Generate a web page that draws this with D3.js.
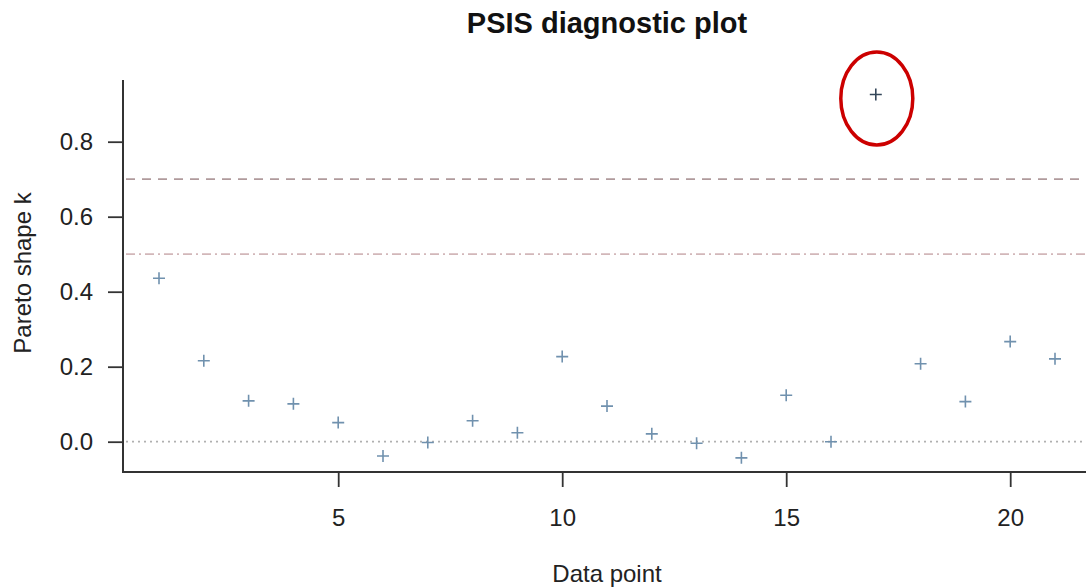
<!DOCTYPE html>
<html lang="en">
<head>
  <meta charset="UTF-8" />
  <title>PSIS diagnostic plot</title>
  <style>
    html, body { margin: 0; padding: 0; background: #fff; }
    svg { display: block; font-family: "Liberation Sans", Arial, sans-serif; }
  </style>
</head>
<body>
<svg id="chart" width="1086" height="588"></svg>
<script src="https://d3js.org/d3.v7.min.js"></script>
<script>
  // data
  const dataPoints = [1, 2, 3, 4, 5, 6, 7, 8, 9, 10, 11, 12, 13, 14, 15, 16, 17, 18, 19, 20, 21];
  const paretoK = [0.436, 0.216, 0.109, 0.101, 0.051, -0.038, -0.002, 0.056, 0.024, 0.227,
                   0.095, 0.021, -0.004, -0.043, 0.124, 0.000, 0.926, 0.208, 0.107, 0.267, 0.221];
  const xTicks = [5, 10, 15, 20];
  const yTicks = [0.0, 0.2, 0.4, 0.6, 0.8];
  const thresholds = [
    { k: 0.7, dash: "9,7", color: "#b09a9c" },
    { k: 0.5, dash: "9,4,2,4", color: "#d2b7b9" },
    { k: 0.0, dash: "2,4", color: "#b0b0b0" }
  ];
  const highlighted = [17];

  const svg = d3.select("#chart");

  const x = d3.scaleLinear().domain([1, 21]).range([159, 1055]);
  const y = d3.scaleLinear().domain([0, 0.8]).range([441.7, 141.7]);

  const font = "Liberation Sans, Arial, sans-serif";

  // title
  svg.append("text")
    .attr("x", 607).attr("y", 33)
    .attr("text-anchor", "middle")
    .attr("font-size", 29).attr("font-weight", "bold")
    .attr("fill", "#111")
    .text("PSIS diagnostic plot");

  // threshold lines
  svg.selectAll(".thr")
    .data(thresholds)
    .enter().append("line")
    .attr("x1", 126).attr("x2", 1086)
    .attr("y1", d => y(d.k)).attr("y2", d => y(d.k))
    .attr("stroke", d => d.color)
    .attr("stroke-width", 1.8)
    .attr("stroke-dasharray", d => d.dash);

  // y axis
  const yAxis = svg.append("g")
    .attr("transform", "translate(123,0)")
    .call(d3.axisLeft(y).tickValues(yTicks).tickFormat(d3.format(".1f")).tickSize(15).tickPadding(15));
  yAxis.select(".domain").remove();
  yAxis.append("line")
    .attr("x1", 0).attr("x2", 0).attr("y1", 80).attr("y2", 472)
    .attr("stroke", "#333").attr("stroke-width", 2);
  yAxis.selectAll(".tick line").attr("stroke", "#333").attr("stroke-width", 1.8);
  yAxis.selectAll(".tick text").attr("font-size", 24).attr("fill", "#222").attr("font-family", font);

  // x axis
  const xAxis = svg.append("g")
    .attr("transform", "translate(0,472)")
    .call(d3.axisBottom(x).tickValues(xTicks).tickSize(15).tickPadding(22));
  xAxis.select(".domain").remove();
  xAxis.append("line")
    .attr("x1", 122).attr("x2", 1086).attr("y1", 0).attr("y2", 0)
    .attr("stroke", "#333").attr("stroke-width", 2);
  xAxis.selectAll(".tick line").attr("stroke", "#333").attr("stroke-width", 1.8);
  xAxis.selectAll(".tick text").attr("font-size", 24).attr("fill", "#222").attr("font-family", font);

  // axis labels
  svg.append("text")
    .attr("x", 607).attr("y", 582)
    .attr("text-anchor", "middle")
    .attr("font-size", 24).attr("fill", "#222")
    .text("Data point");

  svg.append("text")
    .attr("transform", "translate(31,273) rotate(-90)")
    .attr("text-anchor", "middle")
    .attr("font-size", 24).attr("fill", "#222")
    .text("Pareto shape k");

  // points as plus signs
  const pts = dataPoints.map((d, i) => ({ n: d, k: paretoK[i] }));
  const s = 6;
  svg.selectAll(".pt")
    .data(pts)
    .enter().append("path")
    .attr("class", "pt")
    .attr("transform", d => `translate(${x(d.n)},${y(d.k)})`)
    .attr("d", `M${-s},0H${s}M0,${-s}V${s}`)
    .attr("fill", "none")
    .attr("stroke", d => highlighted.includes(d.n) ? "#34475a" : "#7091ae")
    .attr("stroke-width", 1.6);

  // red ellipse around the highlighted point
  const hl = pts.filter(d => highlighted.includes(d.n));
  svg.selectAll(".hl")
    .data(hl)
    .enter().append("ellipse")
    .attr("cx", d => x(d.n) + 1).attr("cy", d => y(d.k) + 4)
    .attr("rx", 36).attr("ry", 46.5)
    .attr("fill", "none")
    .attr("stroke", "#cc0000")
    .attr("stroke-width", 3.5);
</script>
</body>
</html>
